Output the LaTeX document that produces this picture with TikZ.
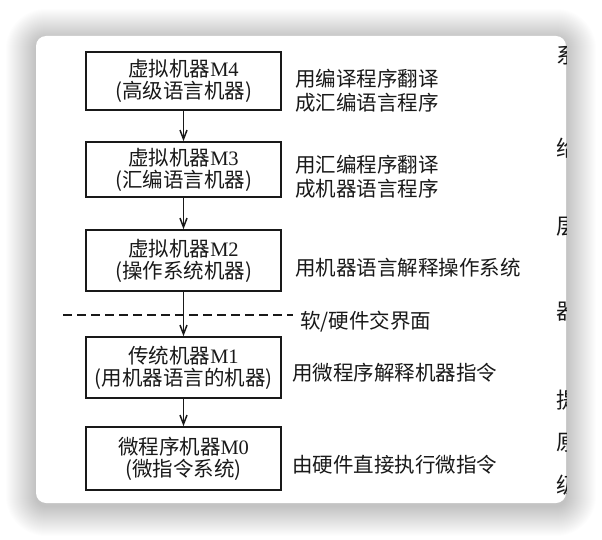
\documentclass[tikz,border=0pt]{standalone}
\usepackage{fontspec}
\setmainfont{Liberation Serif}
\newfontfamily\cjk{Noto Sans CJK SC}
\usetikzlibrary{arrows.meta,positioning}
\definecolor{ink}{RGB}{25,25,25}
\tikzset{
  x=1pt,y=-1pt,
  >={Straight Barb[length=9pt,width=7pt]},
  mach/.style={draw=ink,line width=1.7pt,minimum width=195pt,minimum height=#1,
    inner sep=0pt,align=center,text=ink,font=\cjk\fontsize{20.5}{22}\selectfont},
  mach/.default=58pt,
  note/.style={anchor=west,inner sep=0pt,align=left,text=ink,
    font=\cjk\fontsize{20.5}{24}\selectfont},
  flow/.style={->,line width=1.5pt,draw=ink},
  cutline/.style={draw=ink,line width=1.5pt,dash pattern=on 9pt off 5pt},
}
\newcommand{\lat}[1]{{\rmfamily #1}}
\begin{document}
\begin{tikzpicture}
  \useasboundingbox (0,0) rectangle (602,540);
  % card with soft shadow
  \foreach \i [evaluate=\i as \r using 10+\i] in {1,...,30}
    \fill[black,opacity=0.009,rounded corners=\r pt] (36-\i,39-\i) rectangle (566+\i,506+\i);
  \fill[white,rounded corners=10pt] (36,36) rectangle (566,503);

  % the five levels
  \node[mach] (m4) at (183.5,81) {虚拟机器\lat{M4}\\(高级语言机器)};
  \node[mach=55pt] (m3) at (183.5,169.5) {虚拟机器\lat{M3}\\(汇编语言机器)};
  \node[mach=61pt] (m2) at (183.5,260.5) {虚拟机器\lat{M2}\\(操作系统机器)};
  \node[mach=61pt] (m1) at (183.5,367.5) {传统机器\lat{M1}\\(用机器语言的机器)};
  \node[mach=63pt] (m0) at (183.5,458.5) {微程序机器\lat{M0}\\(微指令系统)};

  % software/hardware border
  \coordinate (cutL) at (63,315);
  \coordinate (cutR) at (293,315);
  \draw[cutline] (cutL) -- (cutR);
  \node[note] (cut) at (300,322) {软/硬件交界面};

  \draw[flow] (m4) -- (m3);
  \draw[flow] (m3) -- (m2);
  \draw[flow] (m2) -- (m1);
  \draw[flow] (m1) -- (m0);

  % how each level is realised
  \node[note] (n4) at (295,91) {用编译程序翻译\\成汇编语言程序};
  \node[note] (n3) at (295,177) {用汇编程序翻译\\成机器语言程序};
  \node[note] (n2) at (295,268) {用机器语言解释操作系统};
  \node[note] (n1) at (292,373) {用微程序解释机器指令};
  \node[note] (n0) at (292,465) {由硬件直接执行微指令};

  % page text cut off at the right edge
  \begin{scope}
    \clip[rounded corners=10pt] (36,36) rectangle (566,503);
    \foreach \y/\c in {55/系,148/给,227/层,312/器,400/提,443/原,485/级}
      \node[note,font=\cjk\fontsize{22}{24}\selectfont] at (556,\y) {\c};
  \end{scope}
\end{tikzpicture}
\end{document}
